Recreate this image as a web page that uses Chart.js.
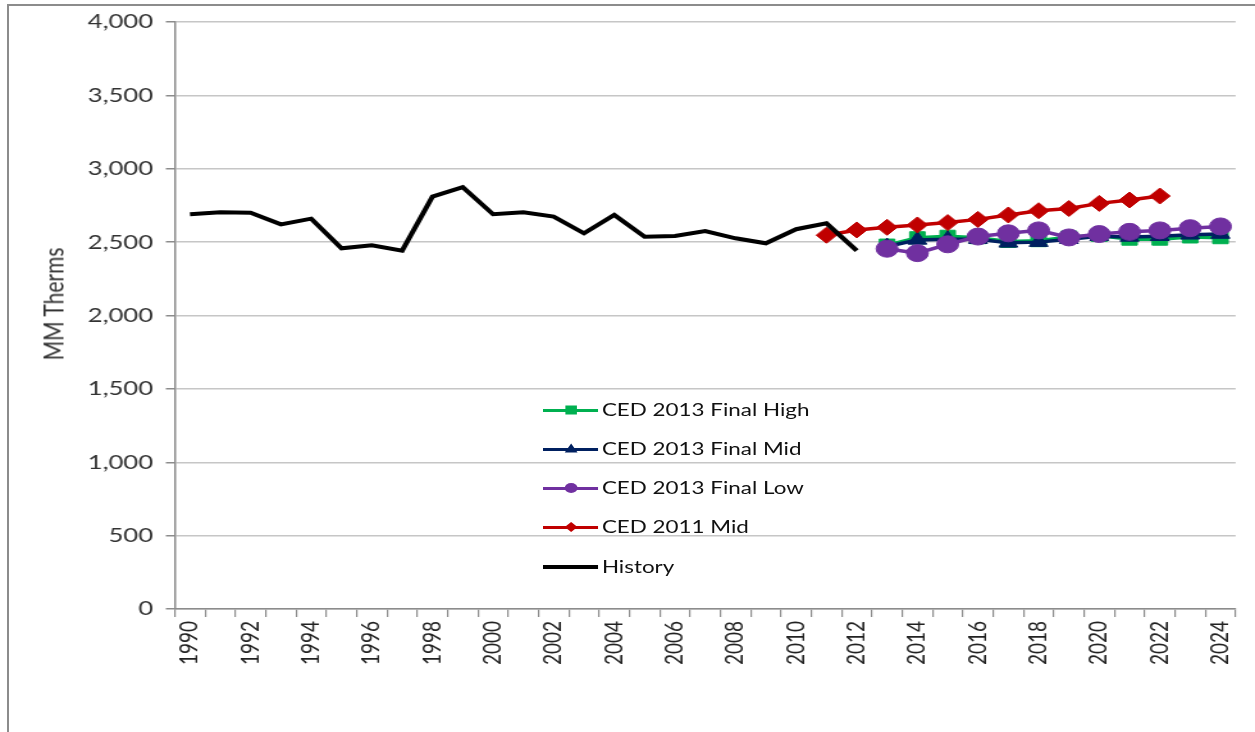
<!DOCTYPE html>
<html>
<head>
<meta charset="utf-8">
<title>MM Therms forecast</title>
<script src="https://cdn.jsdelivr.net/npm/chart.js@4.4.0/dist/chart.umd.min.js"></script>
<style>
  html, body { margin: 0; padding: 0; background: #fff; }
  body { width: 1255px; height: 732px; overflow: hidden; position: relative; font-family: Lato, "Open Sans", sans-serif; }
  /* grey frame of the original picture (cut at the right and bottom) */
  #frame { position: absolute; left: 7px; top: 4px; width: 1300px; height: 800px;
           border-left: 2px solid #8c8c8c; border-top: 2px solid #8c8c8c; }
  /* the source image is stretched horizontally, so draw narrow and scale */
  #stretch { position: absolute; left: 0; top: 0; width: 980px; height: 732px;
             transform: scaleX(1.2806); transform-origin: 0 0; }
  #stretch canvas { position: absolute; left: 0; top: 0; }
  #ytitle { position: absolute; left: 41px; top: 304px; transform: translate(-50%, -50%) rotate(-90deg);
            font-size: 21px; color: #333; white-space: nowrap; }
  .row { position: absolute; left: 424px; height: 24px; width: 300px; }
  .sample { position: absolute; left: 0; top: 0; width: 43px; height: 24px; }
  .ln { position: absolute; left: 0; right: 0; top: 10.5px; height: 3px; }
  .mk { position: absolute; left: 50%; top: 50%; transform: translate(-50%, -50%); }
  .txt { position: absolute; left: 46px; top: 0; line-height: 24px; font-size: 17.5px; color: #111; white-space: nowrap; }
</style>
</head>
<body>
<div id="frame"></div>
<div id="stretch">
  <canvas id="thermsChart" width="980" height="732"></canvas>
  <div id="ytitle">MM Therms</div>
  <div id="legend"></div>
</div>
<script>
// categories (years on the x axis)
const categories = ['1990','1991','1992','1993','1994','1995','1996','1997','1998','1999',
  '2000','2001','2002','2003','2004','2005','2006','2007','2008','2009',
  '2010','2011','2012','2013','2014','2015','2016','2017','2018','2019',
  '2020','2021','2022','2023','2024'];

// History 1990-2012
const historyStart = '1990';
const historyValues = [2690, 2703, 2700, 2621, 2660, 2458, 2478, 2442, 2810, 2874,
  2690, 2703, 2674, 2560, 2685, 2537, 2542, 2576, 2526, 2492, 2588, 2628, 2442];

// CED 2011 Mid 2011-2022
const ced2011Start = '2011';
const ced2011Mid = [2547, 2583, 2601, 2617, 2633, 2655, 2685, 2714, 2729, 2764, 2787, 2814];

// CED 2013 Final 2013-2024
const ced2013Start = '2013';
const ced2013High = [2480, 2530, 2540, 2530, 2505, 2510, 2535, 2545, 2520, 2520, 2535, 2530];
const ced2013Mid  = [2470, 2515, 2520, 2520, 2495, 2500, 2520, 2540, 2535, 2540, 2550, 2555];
const ced2013Low  = [2455, 2425, 2485, 2538, 2560, 2580, 2532, 2555, 2570, 2580, 2595, 2607];

// y axis
const yMin = 0, yMax = 4000, yStep = 500;

// turn a value list + start year into {x, y} points for the category scale
function toPoints(values, start) {
  const first = categories.indexOf(start);
  return values.map((v, i) => ({ x: categories[first + i], y: v }));
}

const series = [
  { label: 'CED 2013 Final High', values: ced2013High, start: ced2013Start, color: '#00B050', style: 'rect',     radius: 8.5, mk: 'square',   order: 5 },
  { label: 'CED 2013 Final Mid',  values: ced2013Mid,  start: ced2013Start, color: '#002060', style: 'triangle', radius: 8.5, mk: 'triangle', order: 4 },
  { label: 'CED 2013 Final Low',  values: ced2013Low,  start: ced2013Start, color: '#7030A0', style: 'circle',   radius: 8.5, mk: 'circle',   order: 3 },
  { label: 'CED 2011 Mid',        values: ced2011Mid,  start: ced2011Start, color: '#C00000', style: 'rectRot',  radius: 8,   mk: 'diamond',  order: 2 },
  { label: 'History',             values: historyValues, start: historyStart, color: '#000000', style: 'circle', radius: 0,   mk: null,       order: 1 }
];

const ctx = document.getElementById('thermsChart').getContext('2d');
const chart = new Chart(ctx, {
  type: 'line',
  data: {
    labels: categories,
    datasets: series.map(s => ({
      label: s.label,
      data: toPoints(s.values, s.start),
      borderColor: s.color,
      backgroundColor: s.color,
      borderWidth: s.mk ? 3.5 : 4,
      pointStyle: s.style,
      pointRadius: s.radius,
      pointBorderWidth: 1,
      pointBorderColor: s.color,
      pointBackgroundColor: s.color,
      tension: 0,
      fill: false,
      order: s.order
    }))
  },
  options: {
    responsive: false,
    animation: false,
    events: [],
    layout: { padding: { top: 22, right: 11, left: 0, bottom: 0 } },
    plugins: {
      legend: { display: false },
      tooltip: { enabled: false },
      title: { display: false }
    },
    scales: {
      x: {
        type: 'category',
        offset: true,
        grid: { offset: true, drawOnChartArea: false, drawTicks: true, tickLength: 8, tickColor: '#8c8c8c', lineWidth: 1.2 },
        border: { color: '#8c8c8c', width: 1.5 },
        ticks: {
          autoSkip: false, maxRotation: 90, minRotation: 90, padding: 4,
          color: '#222', font: { family: 'Lato', size: 19 },
          callback: function (v, i) { return i % 2 === 0 ? this.getLabelForValue(v) : ''; }
        },
        afterFit: s => { s.height = 123; }
      },
      y: {
        min: yMin, max: yMax,
        grid: { color: '#c6c6c6', lineWidth: 1.5, tickColor: '#8c8c8c', tickLength: 7 },
        border: { color: '#8c8c8c', width: 1.5 },
        ticks: {
          stepSize: yStep, padding: 10, color: '#333',
          font: { family: 'Lato', size: 20 },
          callback: v => v.toLocaleString('en-US')
        },
        afterFit: s => { s.width = 136.5; }
      }
    }
  }
});

// legend inside the plot, drawn as html
const legendTop = [410, 449, 488, 527, 567];
const legend = document.getElementById('legend');
series.forEach((s, i) => {
  const row = document.createElement('div');
  row.className = 'row';
  row.style.top = (legendTop[i] - 12) + 'px';
  let mk = '';
  if (s.mk === 'square')   mk = `<div class="mk" style="width:9px;height:9px;background:${s.color}"></div>`;
  if (s.mk === 'triangle') mk = `<div class="mk" style="width:0;height:0;border-left:5px solid transparent;border-right:5px solid transparent;border-bottom:9px solid ${s.color};margin-top:-1px"></div>`;
  if (s.mk === 'circle')   mk = `<div class="mk" style="width:10px;height:10px;border-radius:50%;background:${s.color}"></div>`;
  if (s.mk === 'diamond')  mk = `<div class="mk" style="width:7px;height:7px;background:${s.color};transform:translate(-50%,-50%) rotate(45deg)"></div>`;
  row.innerHTML = `<div class="sample"><div class="ln" style="background:${s.color};${s.mk ? '' : 'height:4px;top:10px'}"></div>${mk}</div><div class="txt">${s.label}</div>`;
  legend.appendChild(row);
});
</script>
</body>
</html>
